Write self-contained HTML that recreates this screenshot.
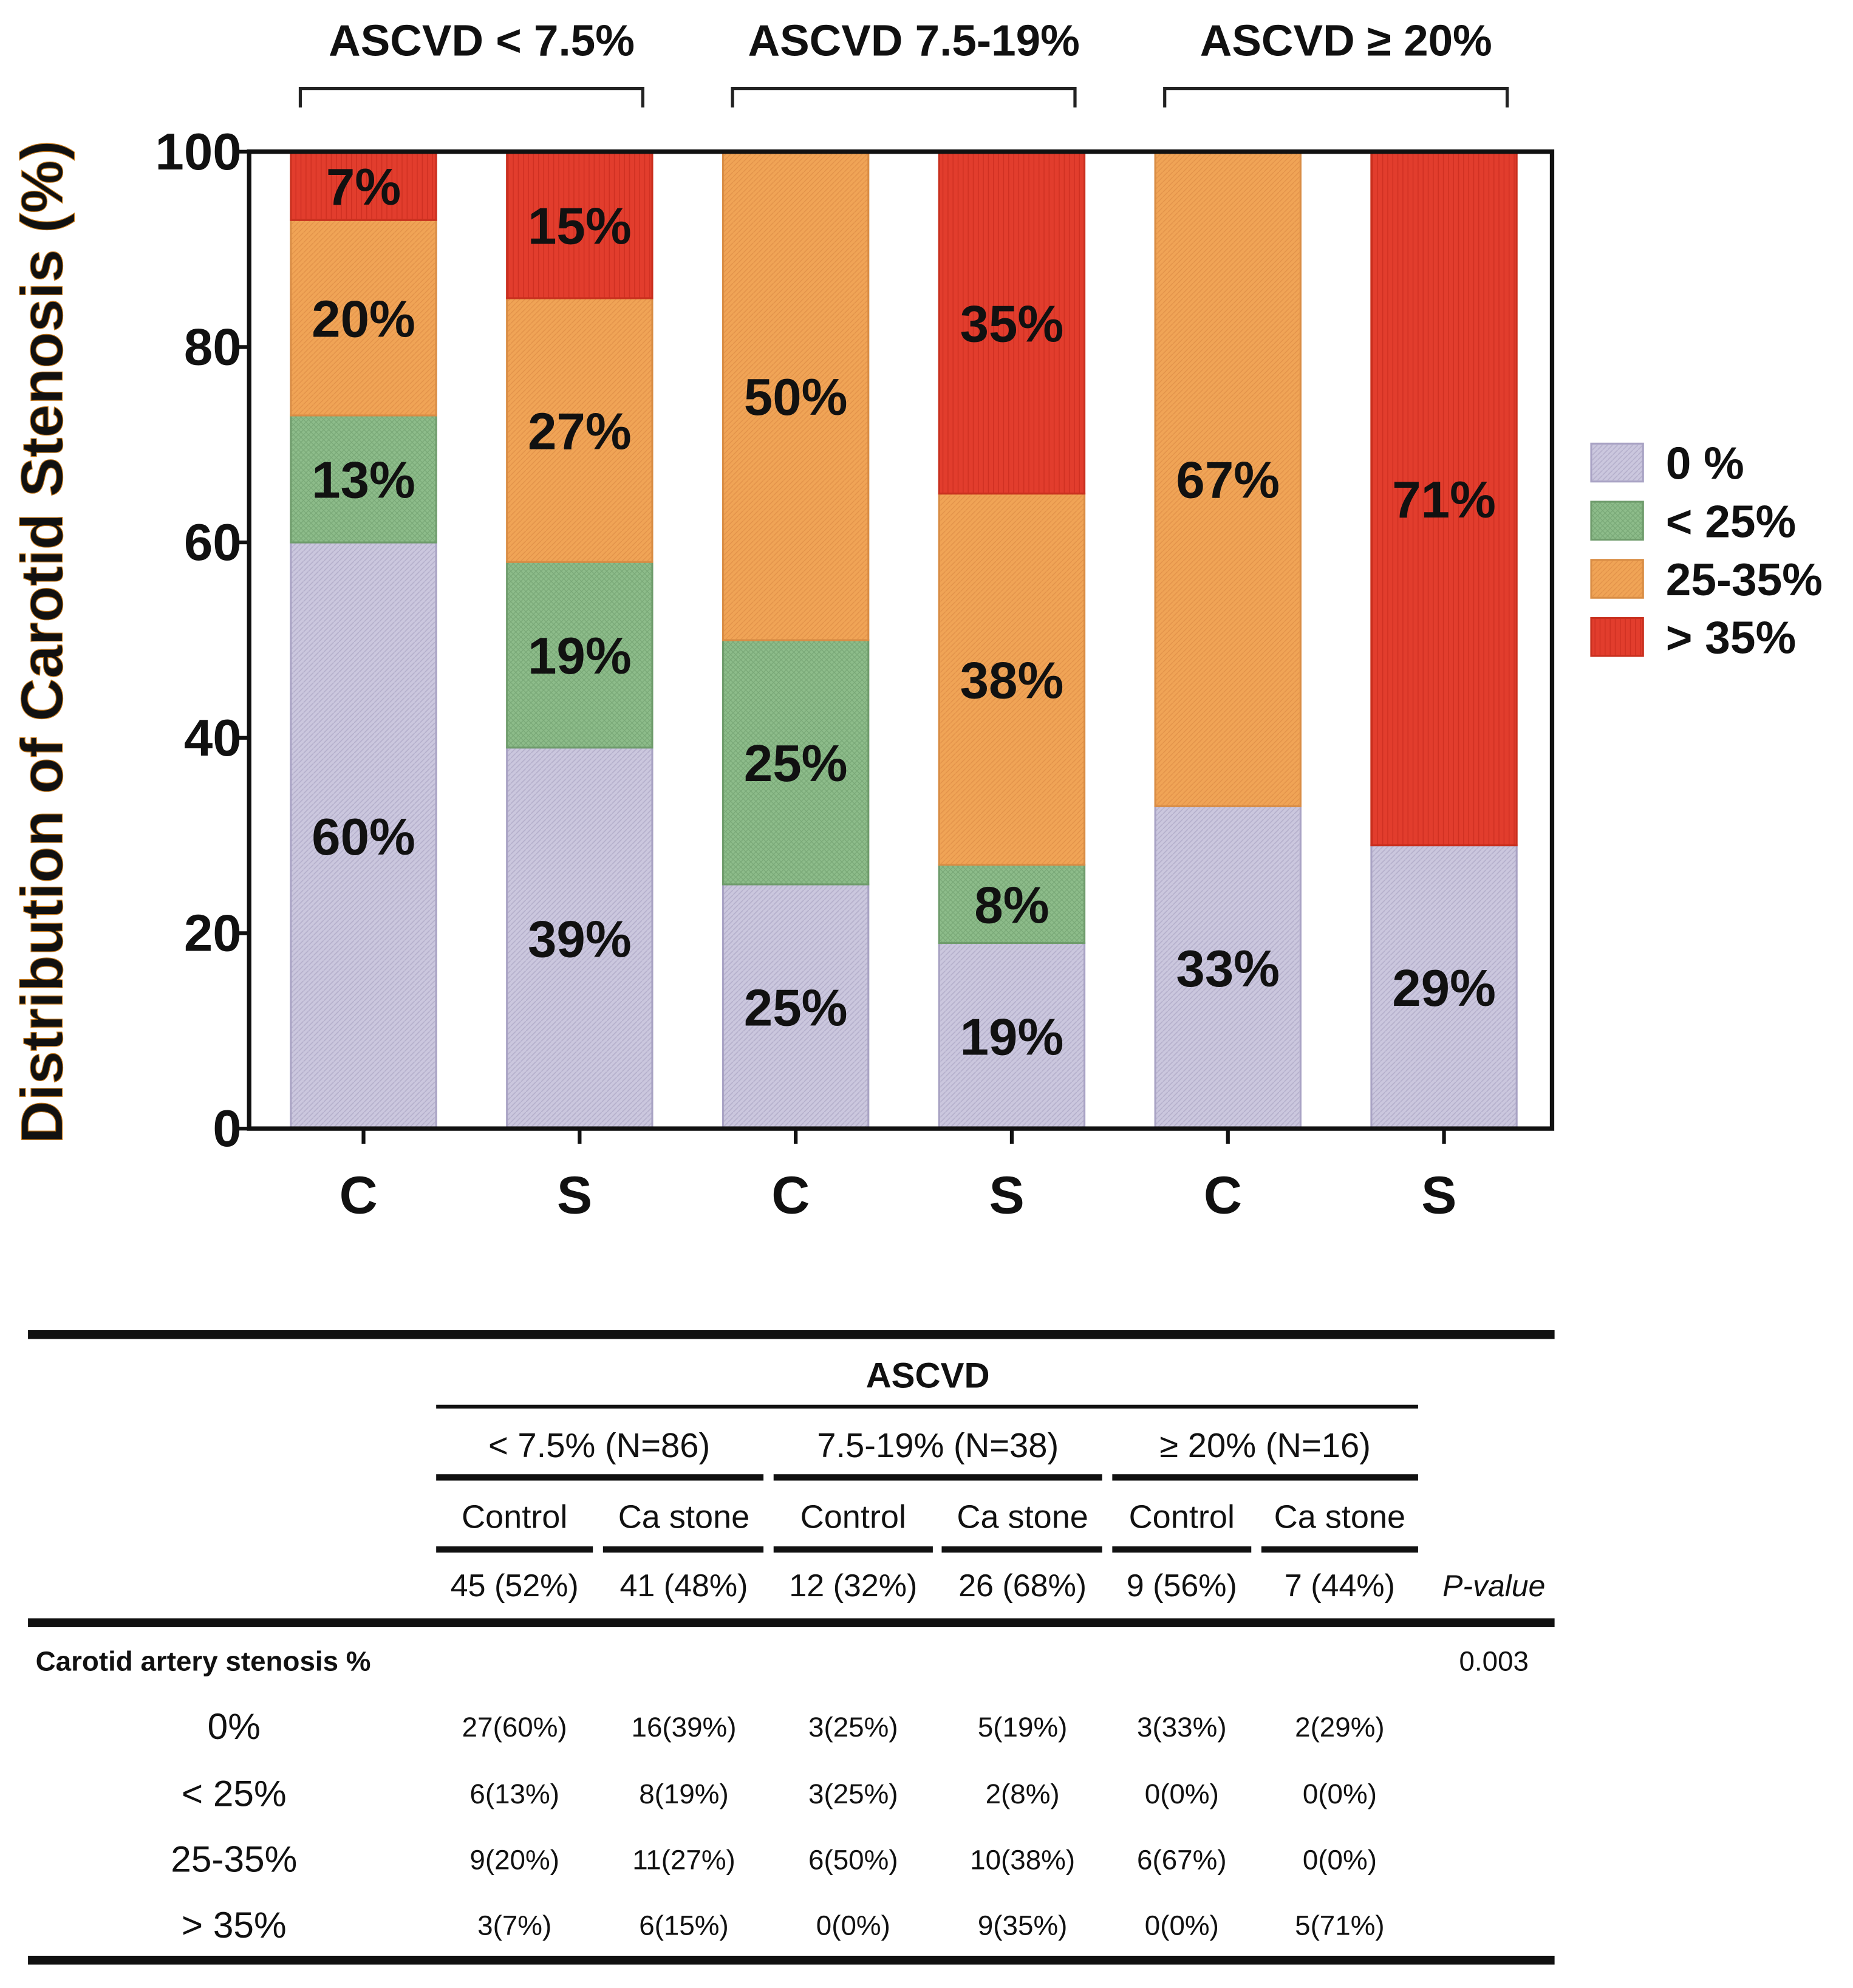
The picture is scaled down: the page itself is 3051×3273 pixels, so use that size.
<!DOCTYPE html>
<html><head><meta charset="utf-8"><style>
html,body{margin:0;padding:0;background:#fff}
svg{display:block}
text{font-family:"Liberation Sans","DejaVu Sans",sans-serif}
</style></head><body>
<svg id="chart" xmlns="http://www.w3.org/2000/svg" width="3051" height="3273" viewBox="0 0 1466 1573">
<defs>
<pattern id="pLav" width="4" height="4" patternUnits="userSpaceOnUse"><rect width="4" height="4" fill="#cbc7de"/><path d="M0 4L4 0" stroke="#b5b0cc" stroke-width="0.8"/></pattern>
<pattern id="pGrn" width="4" height="4" patternUnits="userSpaceOnUse"><rect width="4" height="4" fill="#8dbc8a"/><path d="M0 0L4 4M0 4L4 0" stroke="#79a877" stroke-width="0.6"/></pattern>
<pattern id="pOrg" width="4" height="4" patternUnits="userSpaceOnUse"><rect width="4" height="4" fill="#f0a456"/><path d="M0 4L4 0" stroke="#e2924a" stroke-width="0.7"/></pattern>
<pattern id="pRed" width="4" height="4" patternUnits="userSpaceOnUse"><rect width="4" height="4" fill="#e23d2d"/><path d="M2 0L2 4" stroke="#cf3022" stroke-width="0.7"/></pattern>
</defs>
<g id="plot"></g>
<g id="table"></g>
</svg>
<script>
const categories = ["C","S","C","S","C","S"];
const groupTitles = ["ASCVD < 7.5%","ASCVD 7.5-19%","ASCVD \u2265 20%"];
const seriesNames = ["0 %","< 25%","25-35%","> 35%"];
const s0 = [60,39,25,19,33,29];
const s1 = [13,19,25,8,0,0];
const s2 = [20,27,50,38,67,0];
const s3 = [7,15,0,35,0,71];
const yTicks = [0,20,40,60,80,100];

const NS="http://www.w3.org/2000/svg";
const fills=["url(#pLav)","url(#pGrn)","url(#pOrg)","url(#pRed)"];
const strokes=["#a9a3c4","#6f9c6c","#d98d45","#c9301f"];
const series=[s0,s1,s2,s3];
const L=197,R=1228,T=120,B=893,bw=115;
const y=v=>B-(v/100)*(B-T);
const xc=i=>287.5+i*171;
function mk(tag,attrs,parent,txt){const e=document.createElementNS(NS,tag);for(const k in attrs)e.setAttribute(k,attrs[k]);if(txt!==undefined)e.textContent=txt;parent.appendChild(e);return e;}
const g=document.getElementById("plot");

categories.forEach((c,i)=>{
  let acc=0;
  series.forEach((s,k)=>{
    const v=s[i]; if(v<=0) return;
    const r=mk("rect",{x:xc(i)-bw/2,y:y(acc+v),width:bw,height:y(acc)-y(acc+v),fill:fills[k],stroke:strokes[k],"stroke-width":1.5},g);
    
    
    const t=mk("text",{x:xc(i),y:y(acc+v/2)+15,"text-anchor":"middle","font-size":41,"font-weight":"bold",fill:"#111"},g,v+"%");
    
    
    acc+=v;
  });
  const tk=mk("line",{x1:xc(i),x2:xc(i),y1:B,y2:B+12,stroke:"#111","stroke-width":3},g);
  
  
  const xl=mk("text",{x:xc(i)-4,y:960,"text-anchor":"middle","font-size":42,"font-weight":"bold",fill:"#111"},g,c);
  
  
});
const fr=mk("rect",{x:L,y:T,width:R-L,height:B-T,fill:"none",stroke:"#111","stroke-width":3.5},g);


yTicks.forEach(v=>{
  const l=mk("line",{x1:L-10,x2:L,y1:y(v),y2:y(v),stroke:"#111","stroke-width":3},g);
  
  
  const t=mk("text",{x:L-6,y:y(v)+14,"text-anchor":"end","font-size":41,"font-weight":"bold",fill:"#111"},g,v);
  
  
});
const yt=mk("text",{x:0,y:0,transform:"translate(49,508) rotate(-90)","text-anchor":"middle","font-size":47,"font-weight":"bold",fill:"#111",stroke:"#c87a1a","stroke-width":0.6},g,"Distribution of Carotid Stenosis (%)");


groupTitles.forEach((gt,j)=>{
  const a=xc(2*j)-50,b=xc(2*j+1)+50;
  const br=mk("path",{d:`M${a} 85V70H${b}V85`,fill:"none",stroke:"#222","stroke-width":2.5},g);
  
  
  const t=mk("text",{x:(a+b)/2+8,y:44,"text-anchor":"middle","font-size":35,"font-weight":"bold",fill:"#111"},g,gt);
  
  
});
seriesNames.forEach((n,k)=>{
  const sw=mk("rect",{x:1259,y:351+k*46,width:41,height:30,fill:fills[k],stroke:strokes[k],"stroke-width":1.5},g);
  
  
  const t=mk("text",{x:1318,y:379+k*46,"font-size":36,"font-weight":"bold",fill:"#111"},g,n);
  
  
});

const tb=document.getElementById("table");
const cols=[407,541,675,809,935,1060];
function rule(x1,x2,yy,w,name){const l=mk("rect",{x:x1,y:yy-w/2,width:x2-x1,height:w,fill:"#111"},tb);}
function txt(x,yy,s,size,extra,name){const a=Object.assign({x:x,y:yy,"text-anchor":"middle","font-size":size,fill:"#111"},extra||{});const t=mk("text",a,tb,s);return t;}
rule(22,1230,1056,7,'table-top-rule');
txt(734,1098,"ASCVD",28,{"font-weight":"bold"},'table-ascvd-header');
rule(345,1122,1113,3,'table-ascvd-rule');
[["< 7.5% (N=86)",474],["7.5-19% (N=38)",742],["\u2265 20% (N=16)",1001]].forEach(a=>txt(a[1],1153,a[0],27,{},'table-group-header'));
[[345,604],[612,872],[880,1122]].forEach(a=>rule(a[0],a[1],1169,5,'table-group-rule'));
const sub=["Control","Ca stone","Control","Ca stone","Control","Ca stone"];
const segs=[[345,469],[477,604],[612,738],[745,872],[880,990],[998,1122]];
sub.forEach((s,i)=>{txt(cols[i],1209,s,26,{},'table-subheader');rule(segs[i][0],segs[i][1],1226,5,'table-subheader-rule');});
const counts=["45 (52%)","41 (48%)","12 (32%)","26 (68%)","9 (56%)","7 (44%)"];
counts.forEach((s,i)=>txt(cols[i],1263,s,25,{},'table-count'));
txt(1182,1263,"P-value",24,{"font-style":"italic"},'table-pvalue-header');
rule(22,1230,1284,7,'table-header-rule');
txt(28,1322,"Carotid artery stenosis %",22,{"text-anchor":"start","font-weight":"bold"},'table-row-title');
txt(1182,1322,"0.003",22,{},'table-pvalue');
const rowLabels=["0%","< 25%","25-35%","> 35%"];
const rowYs=[1374,1427,1479,1531];
rowLabels.forEach((r,k)=>{
  txt(185,rowYs[k]+2,r,29,{},'table-row-label');
  const cnt=[[27,16,3,5,3,2],[6,8,3,2,0,0],[9,11,6,10,6,0],[3,6,0,9,0,5]][k];
  cnt.forEach((n,i)=>txt(cols[i],rowYs[k],n+"("+series[k][i]+"%)",22,{},'table-cell'));
});
rule(22,1230,1551,7,'table-bottom-rule');
</script>
</body></html>
